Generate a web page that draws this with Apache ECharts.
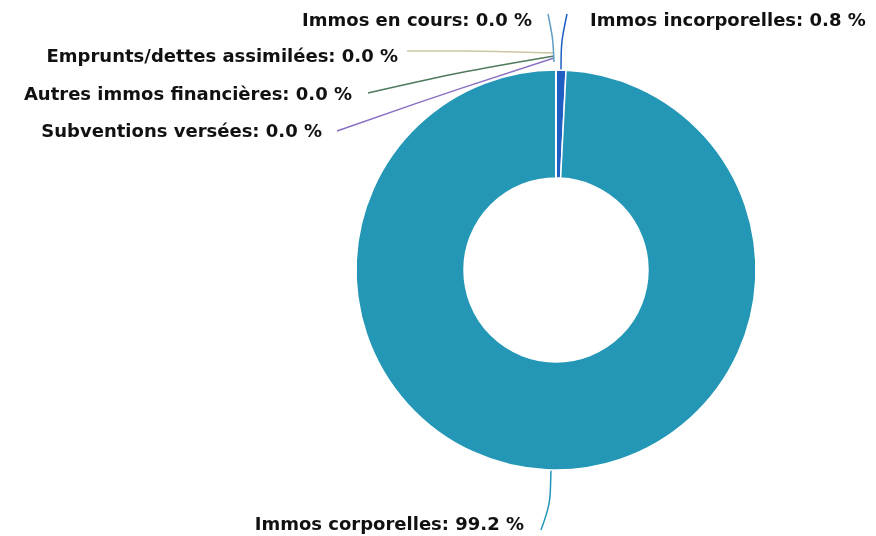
<!DOCTYPE html>
<html>
<head>
<meta charset="utf-8">
<script src="https://cdn.jsdelivr.net/npm/echarts@6/dist/echarts.min.js"></script>
<style>
  html, body { margin: 0; padding: 0; background: #fff; }
  #chart { width: 876px; height: 536px; }
</style>
</head>
<body>
<div id="chart"></div>
<script>
// postes et parts (%)
var categories = [
  "Immos incorporelles",
  "Immos corporelles",
  "Subventions versées",
  "Autres immos financières",
  "Emprunts/dettes assimilées",
  "Immos en cours"
];
var values = [0.8, 99.2, 0, 0, 0, 0];

// couleurs des secteurs et des traits de rappel
var sliceColors = ["#1f5fc4", "#2497b6", "#8a6fc4", "#4f7a5c", "#c9c6a2", "#5f9ec2"];

// position des étiquettes (x, y, alignement, points du trait)
var labelPos = [
  { x: 590, y: 21, align: "left",  line: [[561, 70], [561, 42], [567, 14]] },
  { x: 524, y: 525, align: "right", line: [[551, 470], [550, 505], [541, 530]] },
  { x: 322, y: 132, align: "right", line: [[554, 58], [440, 95], [337, 131]] },
  { x: 352, y: 95,  align: "right", line: [[554, 56], [460, 72], [368, 93]] },
  { x: 398, y: 57,  align: "right", line: [[554, 53], [480, 51], [407, 51]] },
  { x: 532, y: 21,  align: "right", line: [[554, 62], [553, 38], [548, 14]] }
];

var chart = echarts.init(document.getElementById("chart"));

var option = {
  animation: false,
  series: [
    {
      type: "pie",
      center: [556, 270],
      radius: [92, 200],
      startAngle: 90,
      clockwise: true,
      avoidLabelOverlap: false,
      itemStyle: { borderColor: "#fff", borderWidth: 1.5 },
      label: {
        show: true,
        color: "#111",
        fontFamily: "DejaVu Sans",
        fontWeight: "bold",
        fontSize: 18,
        formatter: function (p) {
          return p.name + ": " + p.value.toFixed(1) + " %";
        }
      },
      labelLine: { show: true, smooth: 0.3, lineStyle: { width: 1.5 } },
      labelLayout: function (p) {
        var pos = labelPos[p.dataIndex];
        return {
          x: pos.x,
          y: pos.y,
          align: pos.align,
          verticalAlign: "middle",
          labelLinePoints: pos.line
        };
      },
      data: categories.map(function (name, i) {
        return {
          name: name,
          value: values[i],
          itemStyle: { color: sliceColors[i] },
          labelLine: { lineStyle: { color: sliceColors[i] } }
        };
      })
    }
  ]
};

chart.setOption(option);
</script>
</body>
</html>
